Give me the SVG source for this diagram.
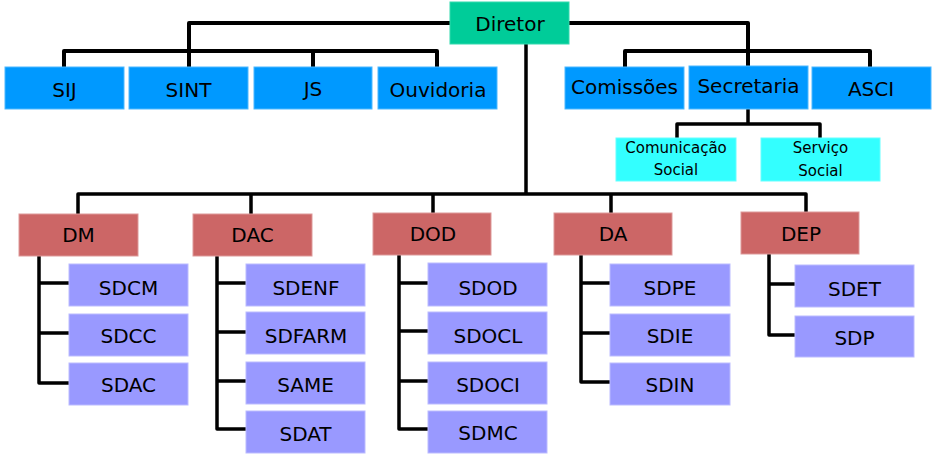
<svg xmlns="http://www.w3.org/2000/svg" width="946" height="456" viewBox="0 0 946 456">
<style>
text{font-family:"DejaVu Sans",Verdana,sans-serif;font-size:20px;fill:#000;text-anchor:middle}
.sm{font-size:15px}
.dir{fill:#00cc99;stroke:#33d9ad;stroke-width:1}
.blue{fill:#0099ff;stroke:#4db8ff;stroke-width:1}
.cyan{fill:#33ffff;stroke:#66ffff;stroke-width:1}
.red{fill:#cc6666;stroke:#dd9999;stroke-width:1}
.pur{fill:#9999ff;stroke:#bbbbff;stroke-width:1}
.c{fill:none;stroke:#000;stroke-width:4;stroke-linejoin:round}
.c2{fill:none;stroke:#000;stroke-width:3.5;stroke-linejoin:round}
</style>
<rect width="946" height="456" fill="#fff"/>
<g id="connectors">
<path class="c" d="M450,23H189V67M64,67V51H437V67M313,51V67"/>
<path class="c" d="M569,23H748V66M625,67V51H870V67"/>
<path class="c2" d="M748,109V124M677,138V124H820V138"/>
<path class="c2" d="M526,44V194M78,214V194H806V212M251,194V214M433,194V213M611,194V213"/>
<path class="c2" d="M39,256V383H69M39,283H69M39,333H69"/>
<path class="c2" d="M217,256V429H246M217,283H246M217,332H246M217,381H246"/>
<path class="c2" d="M399,255V429H428M399,283H428M399,331H428M399,381H428"/>
<path class="c2" d="M581,255V382H610M581,283H610M581,333H610"/>
<path class="c2" d="M769,254V335H795M769,284H795"/>
</g>
<g id="diretor"><rect class="dir" x="450" y="2" width="119" height="42"/><text x="510" y="31">Diretor</text></g>
<g id="sij"><rect class="blue" x="5" y="67" width="119" height="42"/><text x="64.5" y="97">SIJ</text></g>
<g id="sint"><rect class="blue" x="129" y="67" width="119" height="42"/><text x="188.5" y="97">SINT</text></g>
<g id="js"><rect class="blue" x="254" y="67" width="118" height="42"/><text x="313" y="96">JS</text></g>
<g id="ouvidoria"><rect class="blue" x="378" y="67" width="119" height="42"/><text x="438" y="97">Ouvidoria</text></g>
<g id="comissoes"><rect class="blue" x="565" y="67" width="119" height="42"/><text x="624.5" y="94">Comissões</text></g>
<g id="secretaria"><rect class="blue" x="689" y="66" width="119" height="43"/><text x="748.5" y="93">Secretaria</text></g>
<g id="asci"><rect class="blue" x="812" y="67" width="119" height="42"/><text x="871" y="96">ASCI</text></g>
<g id="comunicacao"><rect class="cyan" x="616" y="138" width="120" height="43"/><text class="sm" x="676" y="153">Comunicação</text><text class="sm" x="676" y="175">Social</text></g>
<g id="servico"><rect class="cyan" x="761" y="138" width="119" height="43"/><text class="sm" x="820.5" y="153">Serviço</text><text class="sm" x="820.5" y="176">Social</text></g>
<g id="dm"><rect class="red" x="19" y="214" width="119" height="42"/><text x="78.5" y="242">DM</text></g>
<g id="dac"><rect class="red" x="193" y="214" width="119" height="42"/><text x="252.5" y="242">DAC</text></g>
<g id="dod"><rect class="red" x="373" y="213" width="118" height="42"/><text x="433" y="241">DOD</text></g>
<g id="da"><rect class="red" x="554" y="213" width="118" height="42"/><text x="613" y="241">DA</text></g>
<g id="dep"><rect class="red" x="741" y="212" width="118" height="42"/><text x="801" y="241">DEP</text></g>
<g id="sdcm"><rect class="pur" x="69" y="264" width="119" height="42"/><text x="128.5" y="295">SDCM</text></g>
<g id="sdcc"><rect class="pur" x="69" y="314" width="119" height="42"/><text x="128.5" y="343">SDCC</text></g>
<g id="sdac"><rect class="pur" x="69" y="363" width="119" height="42"/><text x="128.5" y="392">SDAC</text></g>
<g id="sdenf"><rect class="pur" x="246" y="264" width="119" height="42"/><text x="306" y="295">SDENF</text></g>
<g id="sdfarm"><rect class="pur" x="246" y="312" width="119" height="42"/><text x="306" y="343">SDFARM</text></g>
<g id="same"><rect class="pur" x="246" y="362" width="119" height="42"/><text x="305.5" y="392">SAME</text></g>
<g id="sdat"><rect class="pur" x="246" y="411" width="119" height="42"/><text x="305.5" y="441">SDAT</text></g>
<g id="sdod"><rect class="pur" x="428" y="263" width="119" height="43"/><text x="488" y="295">SDOD</text></g>
<g id="sdocl"><rect class="pur" x="428" y="312" width="119" height="42"/><text x="488" y="343">SDOCL</text></g>
<g id="sdoci"><rect class="pur" x="428" y="362" width="119" height="42"/><text x="488" y="392">SDOCI</text></g>
<g id="sdmc"><rect class="pur" x="428" y="411" width="119" height="42"/><text x="488" y="440">SDMC</text></g>
<g id="sdpe"><rect class="pur" x="610" y="264" width="120" height="42"/><text x="670" y="295">SDPE</text></g>
<g id="sdie"><rect class="pur" x="610" y="314" width="120" height="42"/><text x="670" y="343">SDIE</text></g>
<g id="sdin"><rect class="pur" x="610" y="363" width="120" height="42"/><text x="670" y="392">SDIN</text></g>
<g id="sdet"><rect class="pur" x="795" y="265" width="119" height="42"/><text x="854.5" y="296">SDET</text></g>
<g id="sdp"><rect class="pur" x="795" y="316" width="119" height="41"/><text x="854.5" y="345">SDP</text></g>
</svg>
